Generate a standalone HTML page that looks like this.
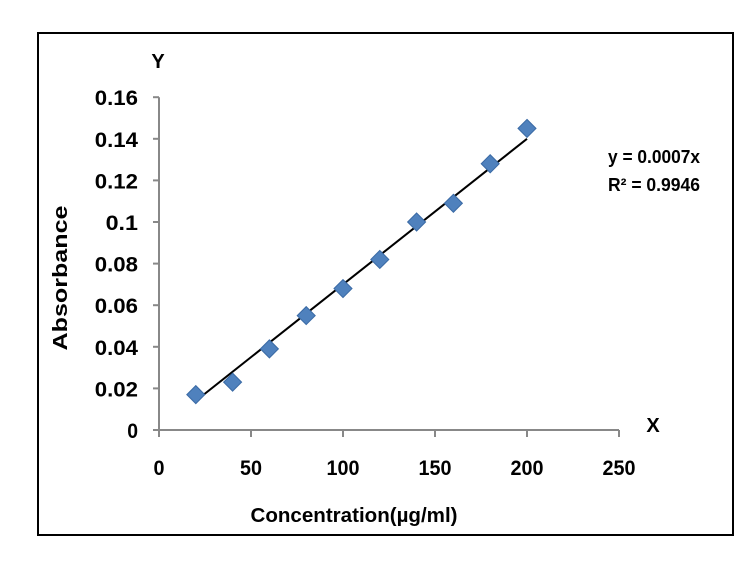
<!DOCTYPE html>
<html><head><meta charset="utf-8"><style>
body{margin:0;background:#fff;}
svg text{font-family:"Liberation Sans",sans-serif;font-weight:bold;fill:#000;}
</style></head><body>
<svg width="745" height="567">
<rect x="38" y="33" width="695" height="502" fill="#fff" stroke="#000" stroke-width="2"/>
<g id="axes"></g>
<g id="marks"></g>
<text x="158" y="68" font-size="20" text-anchor="middle" font-weight="normal">Y</text>
<text x="653" y="432" font-size="20" text-anchor="middle">X</text>
<text transform="translate(67,278) rotate(-90)" font-size="20" text-anchor="middle" textLength="145" lengthAdjust="spacingAndGlyphs">Absorbance</text>
<text x="354" y="522" font-size="20" text-anchor="middle" textLength="207" lengthAdjust="spacingAndGlyphs">Concentration(µg/ml)</text>
<text x="608" y="163" font-size="18" font-weight="normal" textLength="92" lengthAdjust="spacingAndGlyphs">y = 0.0007x</text>
<text x="608" y="191" font-size="18" font-weight="normal" textLength="92" lengthAdjust="spacingAndGlyphs">R² = 0.9946</text>
</svg>
<script>
const xVals=[20,40,60,80,100,120,140,160,180,200];
const yVals=[0.017,0.023,0.039,0.055,0.068,0.082,0.100,0.109,0.128,0.145];
const yTicks=[0,0.02,0.04,0.06,0.08,0.1,0.12,0.14,0.16];
const yTickLabels=["0","0.02","0.04","0.06","0.08","0.1","0.12","0.14","0.16"];
const xTicks=[0,50,100,150,200,250];
const slope=0.0007;
const NS="http://www.w3.org/2000/svg";
const X=v=>159+v*(92/50);
const Y=v=>430-v*(41.6/0.02);
function mk(t,a,p){const e=document.createElementNS(NS,t);for(const k in a)e.setAttribute(k,a[k]);p.appendChild(e);return e;}
const ax=document.getElementById('axes'),mk2=document.getElementById('marks');
let e=mk('line',{x1:X(0),y1:Y(0.16),x2:X(0),y2:Y(0),stroke:'#888','stroke-width':2},ax);


e=mk('line',{x1:X(0),y1:Y(0),x2:X(250),y2:Y(0),stroke:'#888','stroke-width':2},ax);


yTicks.forEach((t,i)=>{
 mk('line',{x1:X(0)-6,y1:Y(t),x2:X(0),y2:Y(t),stroke:'#888','stroke-width':2},ax);
 const lab=yTickLabels[i];
 const tx=mk('text',{x:X(0)-21,y:Y(t)+8,'font-size':21,'text-anchor':'end',textLength:lab.length*10.8,lengthAdjust:'spacingAndGlyphs'},ax);
 tx.textContent=lab;
 
 
});
xTicks.forEach(t=>{
 mk('line',{x1:X(t),y1:Y(0),x2:X(t),y2:Y(0)+7,stroke:'#888','stroke-width':2},ax);
 const lab=String(t);
 const tx=mk('text',{x:X(t),y:Y(0)+45,'font-size':21,'text-anchor':'middle',textLength:lab.length*11,lengthAdjust:'spacingAndGlyphs'},ax);
 tx.textContent=lab;
 
 
});
const x0=xVals[0],x1=xVals[xVals.length-1];
const tl=mk('line',{x1:X(x0),y1:Y(slope*x0),x2:X(x1),y2:Y(slope*x1),stroke:'#000','stroke-width':2},mk2);


xVals.forEach((xv,i)=>{
 const cx=X(xv),cy=Y(yVals[i]),s=9;
 const p=mk('polygon',{points:`${cx},${cy-s} ${cx+s},${cy} ${cx},${cy+s} ${cx-s},${cy}`,fill:'#4f81bd',stroke:'#3a6aa5','stroke-width':1},mk2);
 
 
});
</script>
</body></html>
